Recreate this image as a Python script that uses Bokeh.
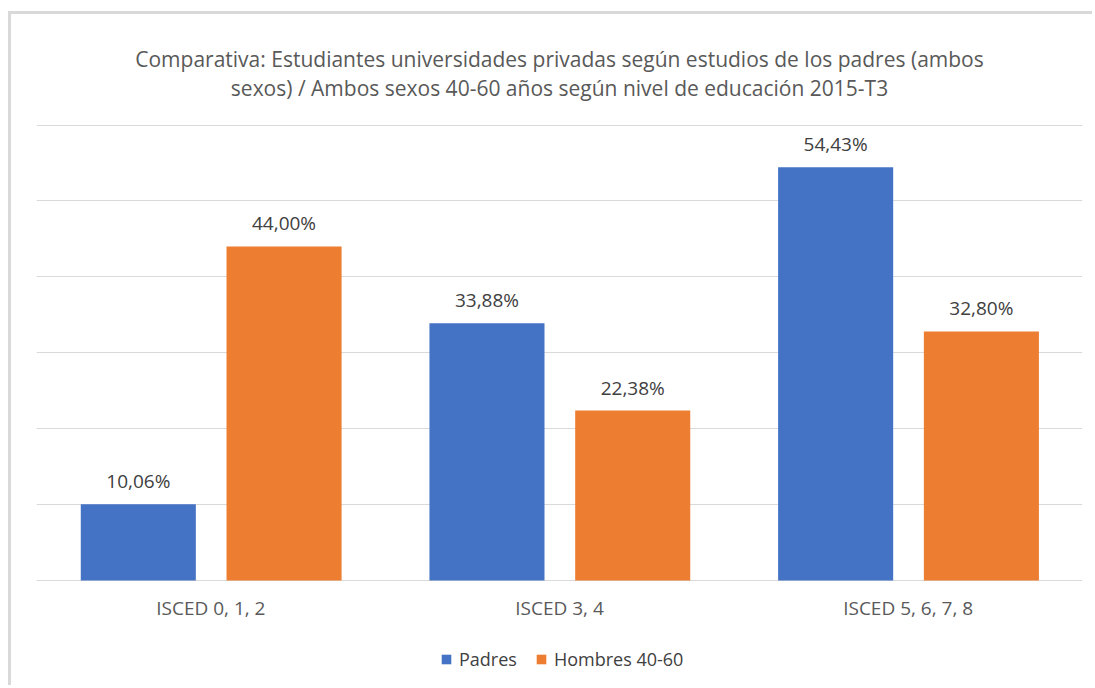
from bokeh.plotting import figure
from bokeh.models import (ColumnDataSource, FactorRange, Range1d, FixedTicker, LabelSet,
                          Legend, LegendItem, Label)
from bokeh.core.properties import value
from bokeh.transform import dodge
from bokeh.embed import file_html
from bokeh.resources import INLINE

categories = ["ISCED 0, 1, 2", "ISCED 3, 4", "ISCED 5, 6, 7, 8"]
padres = [10.06, 33.88, 54.43]
hombres = [44.00, 22.38, 32.80]
series_names = ["Padres", "Hombres 40-60"]
title_lines = ["Comparativa: Estudiantes universidades privadas según estudios de los padres (ambos",
               "sexos) / Ambos sexos 40-60 años según nivel de educación 2015-T3"]
y_ticks = [0, 10, 20, 30, 40, 50, 60]

def fmt(v):
    return ("%.2f" % v).replace(".", ",") + "%"

src = ColumnDataSource(dict(
    cat=categories,
    padres=padres,
    hombres=hombres,
    padres_lbl=[fmt(v) for v in padres],
    hombres_lbl=[fmt(v) for v in hombres],
))

FONT = "Open Sans"
BLUE = "#4472C4"
ORANGE = "#ED7D31"
GRID = "#D9D9D9"

# plot frame spans the whole canvas height; value axis 0..60 sits between
# the title block above and the category labels / legend below
PX_PER_UNIT = 455.5 / 60.0
Y_MAX = 60 + 110.5 / PX_PER_UNIT
Y_MIN = -108.0 / PX_PER_UNIT

p = figure(x_range=FactorRange(*categories), y_range=Range1d(Y_MIN, Y_MAX),
           width=1084, height=674, output_backend="svg", toolbar_location=None,
           title=None,
           min_border_left=25, min_border_right=13, min_border_top=0, min_border_bottom=0)
p.styles = {"border-left": "3px solid #D9D9D9", "border-top": "3px solid #D9D9D9",
            "margin-top": "11px", "margin-left": "8px"}

# title (two lines)
for txt, off in [(title_lines[0], 66), (title_lines[1], 37.5)]:
    p.add_layout(Label(x=1.5, y=60, y_offset=off, text=txt, text_align="center",
                       text_baseline="alphabetic", text_font=FONT, text_font_size="21px",
                       text_color="#595959"))

r1 = p.vbar(x=dodge("cat", -0.208, range=p.x_range), top="padres", width=0.33,
            source=src, color=BLUE, line_color=None)
r2 = p.vbar(x=dodge("cat", 0.21, range=p.x_range), top="hombres", width=0.33,
            source=src, color=ORANGE, line_color=None)

for xoff, col, lbl in [(-0.208, "padres", "padres_lbl"), (0.21, "hombres", "hombres_lbl")]:
    p.add_layout(LabelSet(x=dodge("cat", xoff, range=p.x_range), y=col, text=lbl, source=src,
                          text_align="center", text_baseline="alphabetic", y_offset=16,
                          text_font=value(FONT), text_font_size="19px", text_color="#404040"))

# category labels under the baseline
p.add_layout(LabelSet(x="cat", y=0, text="cat", source=src, text_align="center",
                      text_baseline="alphabetic", y_offset=-34,
                      text_font=value(FONT), text_font_size="19px", text_color="#595959"))

p.yaxis.visible = False
p.xaxis.visible = False
p.yaxis.ticker = FixedTicker(ticks=y_ticks)
p.ygrid.grid_line_color = GRID
p.ygrid.grid_line_width = 1
p.xgrid.visible = False
p.outline_line_color = None

legend = Legend(items=[LegendItem(label=series_names[0], renderers=[r1]),
                       LegendItem(label=series_names[1], renderers=[r2])],
                orientation="horizontal", location=(404, 17),
                label_text_font=FONT, label_text_font_size="18px", label_text_color="#404040",
                glyph_width=12, glyph_height=12, label_standoff=7, spacing=18,
                border_line_color=None, background_fill_alpha=0, padding=0, margin=0)
p.add_layout(legend, "center")

open("out.html", "w").write(file_html(p, INLINE))
